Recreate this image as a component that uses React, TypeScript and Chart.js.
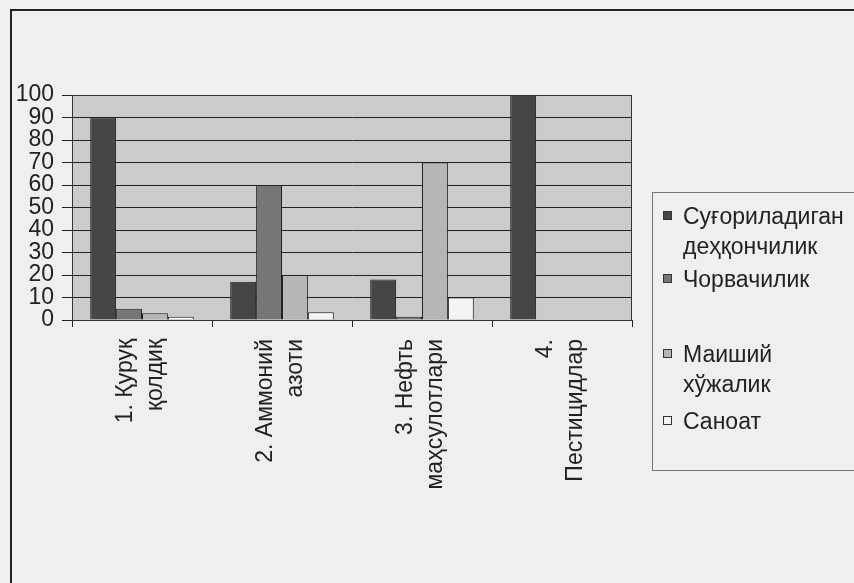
import React, { useEffect, useRef } from "react";
import { Chart, registerables } from "chart.js";

Chart.register(...registerables);

const categories: string[][] = [
  ["1. Қуруқ", "қолдиқ"],
  ["2. Аммоний", "азоти"],
  ["3. Нефть", "маҳсулотлари"],
  ["4.", "Пестицидлар"],
];

const seriesNames: string[][] = [
  ["Суғориладиган", "деҳқончилик"],
  ["Чорвачилик"],
  ["Маиший", "хўжалик"],
  ["Саноат"],
];

const irrigatedFarming = [90, 17, 18, 100];
const livestock = [5, 60, 1.5, 0];
const household = [3, 20, 70, 0];
const industry = [1.5, 3.5, 10, 0];

const yTicks = [0, 10, 20, 30, 40, 50, 60, 70, 80, 90, 100];

const colors = ["#464646", "#767676", "#b6b6b6", "#f4f4f4"];
const FONT = "'Liberation Sans', Arial, sans-serif";

const plotBg = {
  id: "plotBg",
  beforeDraw(chart: any) {
    const { ctx, chartArea } = chart;
    ctx.save();
    ctx.fillStyle = "#cbcbcb";
    ctx.fillRect(chartArea.left, chartArea.top, chartArea.right - chartArea.left, chartArea.bottom - chartArea.top);
    ctx.restore();
  },
  afterDatasetsDraw(chart: any) {
    const { ctx, chartArea } = chart;
    ctx.save();
    ctx.strokeStyle = "#333";
    ctx.lineWidth = 1;
    ctx.strokeRect(chartArea.left + 0.5, chartArea.top + 0.5, chartArea.right - chartArea.left - 1, chartArea.bottom - chartArea.top);
    ctx.restore();
  },
};

export default function App() {
  const ref = useRef<HTMLCanvasElement>(null);
  useEffect(() => {
    if (!ref.current) return;
    const data = [irrigatedFarming, livestock, household, industry];
    const chart = new Chart(ref.current, {
      type: "bar",
      data: {
        labels: categories,
        datasets: data.map((d, i) => ({
          label: seriesNames[i].join(" "),
          data: d,
          backgroundColor: colors[i],
          borderColor: "#222",
          borderWidth: 1,
          barPercentage: 1,
          categoryPercentage: 0.74,
        })),
      },
      options: {
        animation: false,
        responsive: false,
        devicePixelRatio: 1,
        layout: { padding: { top: 95, right: 222, left: 0, bottom: 0 } },
        plugins: { legend: { display: false }, tooltip: { enabled: false } },
        scales: {
          x: {
            afterFit(scale: any) {
              scale.height = 263;
            },
            grid: {
              display: true,
              drawOnChartArea: false,
              drawTicks: true,
              tickLength: 7,
              color: "#222",
              offset: true,
            },
            border: { display: true, color: "#222", width: 1 },
            ticks: {
              minRotation: 90,
              maxRotation: 90,
              autoSkip: false,
              padding: 12,
              labelOffset: -16,
              color: "#222",
              font: { family: FONT, size: 23, lineHeight: 1.3 },
            },
          },
          y: {
            min: 0,
            max: 100,
            afterFit(scale: any) {
              scale.width = 72;
            },
            afterBuildTicks(scale: any) {
              scale.ticks = yTicks.map((v) => ({ value: v }));
            },
            grid: { color: "#222", lineWidth: 1, tickLength: 10, drawTicks: true },
            border: { display: true, color: "#222", width: 1 },
            ticks: {
              autoSkip: false,
              stepSize: 10,
              padding: 8,
              color: "#222",
              font: { family: FONT, size: 23, lineHeight: 1 },
            },
          },
        },
      },
      plugins: [plotBg],
    });
    return () => chart.destroy();
  }, []);

  const legendTops = [200, 263, 338, 405];

  return (
    <div style={{ position: "fixed", left: 0, top: 0, width: 854, height: 583, background: "#efefef", overflow: "hidden" }}>
      <div style={{ position: "absolute", left: 10, top: 9, width: 900, height: 700, borderLeft: "2px solid #222", borderTop: "2px solid #222" }} />
      <canvas ref={ref} width={854} height={583} style={{ position: "absolute", left: 0, top: 0, width: 854, height: 583 }} />
      <div style={{ position: "absolute", left: 652, top: 192, width: 260, height: 277, border: "1px solid #777", fontFamily: FONT, fontSize: 23, color: "#222" }}>
        {seriesNames.map((lines, i) => (
          <div key={i} style={{ position: "absolute", left: 10, top: legendTops[i] - 192, lineHeight: "30px", display: "flex" }}>
            <div style={{ width: 9, height: 9, marginTop: 10, background: colors[i], border: "1px solid #333", boxSizing: "border-box" }} />
            <div style={{ marginLeft: 11 }}>
              {lines.map((l, j) => (
                <div key={j}>{l}</div>
              ))}
            </div>
          </div>
        ))}
      </div>
    </div>
  );
}
